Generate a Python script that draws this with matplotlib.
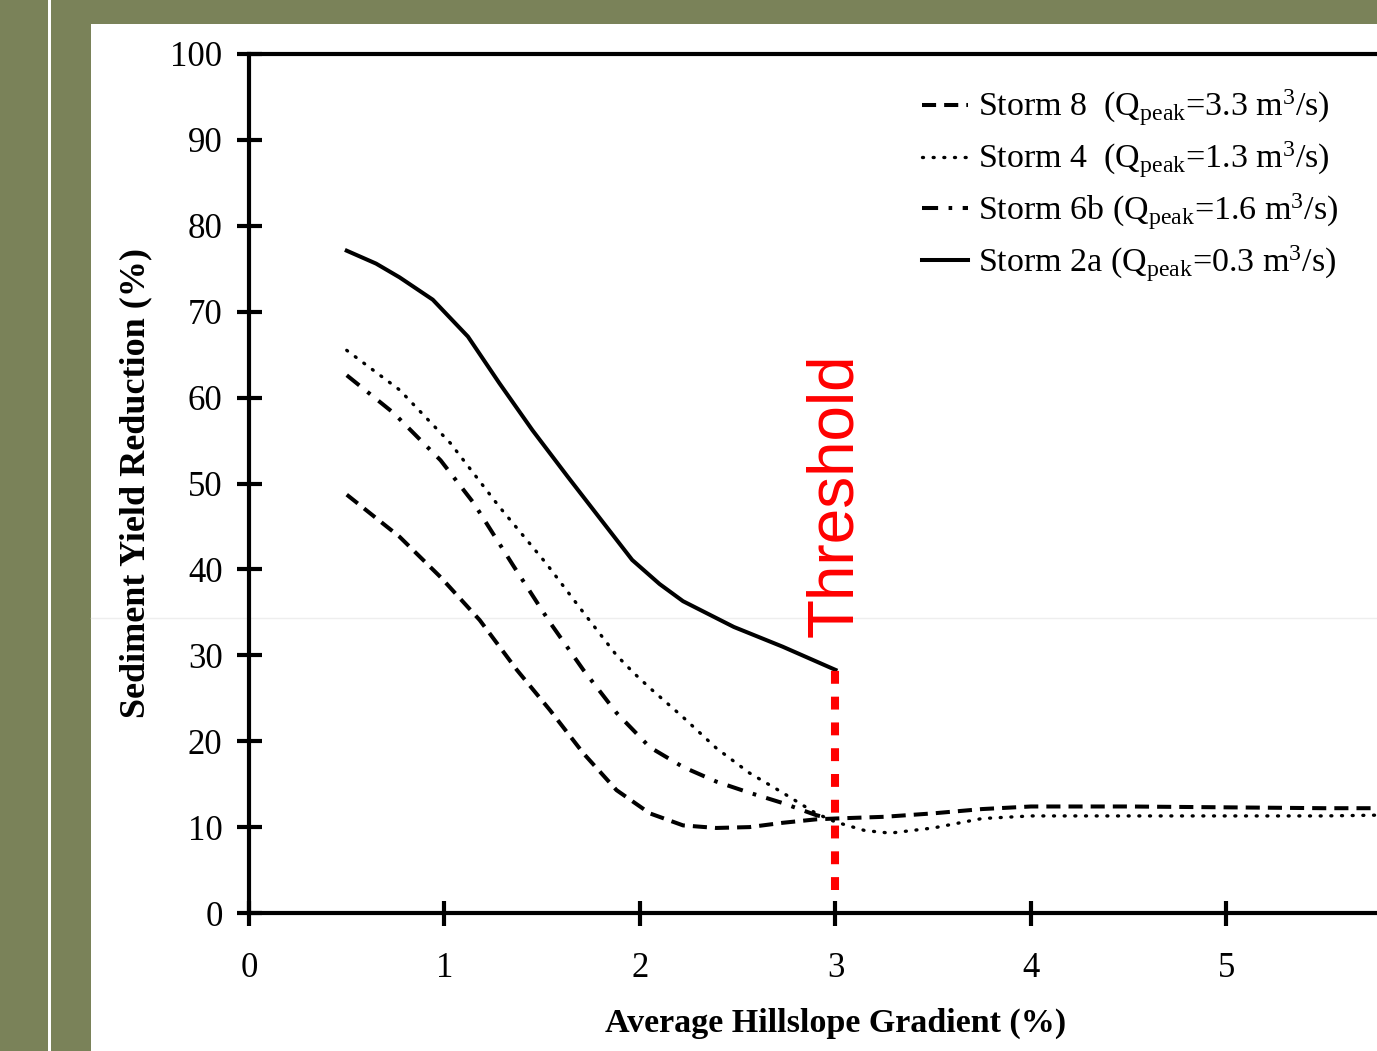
import matplotlib
matplotlib.use("Agg")
import matplotlib.pyplot as plt
from matplotlib.patches import Rectangle
from matplotlib.lines import Line2D

plt.rcParams['font.family'] = ['Liberation Serif', 'DejaVu Serif']
plt.rcParams['mathtext.fontset'] = 'custom'
plt.rcParams['mathtext.rm'] = 'Liberation Serif'
plt.rcParams['mathtext.it'] = 'Liberation Serif:italic'

# gradient (%) and sediment yield reduction (%)
x_s8 = [0.5, 0.77, 0.98, 1.18, 1.37, 1.54, 1.71, 1.88, 2.05, 2.22, 2.39, 2.56, 2.73, 2.9, 3.0,
        3.25, 3.5, 3.75, 4.0, 4.5, 5.0, 5.5, 5.8]
y_s8 = [48.7, 43.8, 39.1, 34.1, 28.3, 23.6, 18.6, 14.3, 11.6, 10.2, 9.9, 10.0, 10.5, 10.9, 11.0,
        11.2, 11.6, 12.1, 12.4, 12.4, 12.3, 12.2, 12.2]

x_s4 = [0.5, 0.77, 1.03, 1.28, 1.52, 1.71, 1.88, 1.97, 2.05, 2.22, 2.39, 2.56, 2.73, 2.9, 3.0,
        3.15, 3.28, 3.5, 3.75, 4.0, 4.5, 5.0, 5.5, 5.8]
y_s4 = [65.5, 60.9, 54.7, 47.3, 40.7, 35.0, 30.0, 27.9, 26.2, 22.8, 19.2, 16.3, 14.0, 11.6, 10.6,
        9.6, 9.3, 9.9, 11.0, 11.3, 11.3, 11.3, 11.3, 11.4]

x_s6b = [0.5, 0.74, 0.98, 1.15, 1.35, 1.54, 1.71, 1.88, 2.05, 2.22, 2.39, 2.56, 2.73, 2.9, 2.97]
y_s6b = [62.6, 58.2, 52.7, 47.7, 40.5, 33.8, 28.3, 23.3, 19.3, 17.0, 15.3, 14.0, 12.8, 11.4, 11.0]

x_s2a = [0.5, 0.65, 0.77, 0.94, 1.12, 1.28, 1.45, 1.63, 1.8, 1.96, 2.1, 2.22, 2.48, 2.73, 3.0]
y_s2a = [77.1, 75.6, 74.0, 71.4, 67.1, 61.7, 56.2, 50.8, 45.8, 41.1, 38.3, 36.3, 33.3, 31.0, 28.3]

threshold_x = 3.0
threshold_y = [2.7, 28.3]

labels = [r'Storm 8  (Q$_{\mathrm{peak}}$=3.3 m$^{3}$/s)',
          r'Storm 4  (Q$_{\mathrm{peak}}$=1.3 m$^{3}$/s)',
          r'Storm 6b (Q$_{\mathrm{peak}}$=1.6 m$^{3}$/s)',
          r'Storm 2a (Q$_{\mathrm{peak}}$=0.3 m$^{3}$/s)']

olive = '#7a8259'

fig = plt.figure(figsize=(13.77, 10.51), dpi=100)
fig.patch.set_facecolor(olive)

# slide decoration: white stripe, white panel, faint guide line
fig.patches.append(Rectangle((48 / 1377, 0), 3 / 1377, 1, transform=fig.transFigure,
                             facecolor='white', edgecolor='none', zorder=1))
fig.patches.append(Rectangle((91 / 1377, 0), 1, 1 - 24 / 1051, transform=fig.transFigure,
                             facecolor='white', edgecolor='none', zorder=1))
fig.lines.append(Line2D([91 / 1377, 1], [1 - 618 / 1051, 1 - 618 / 1051], transform=fig.transFigure,
                        color='#eeeeee', lw=1, zorder=2))

ax = fig.add_axes([249 / 1377, 138 / 1051, 6 * 195.5 / 1377, 859 / 1051])
ax.patch.set_alpha(0)
ax.set_zorder(3)

ax.plot(x_s8, y_s8, color='black', lw=2.9, dashes=(3.5, 2), label=labels[0])
ax.plot(x_s4, y_s4, color='black', lw=2.4, dashes=(0.3, 2.9), dash_capstyle='round', label=labels[1])
ax.plot(x_s6b, y_s6b, color='black', lw=2.9, dashes=(4, 2.6, 0.9, 2.6), label=labels[2])
ax.plot(x_s2a, y_s2a, color='black', lw=2.9, label=labels[3])

ax.plot([threshold_x, threshold_x], threshold_y, color='#ff0000', lw=5.8,
        dashes=(1.6, 1.6), dash_capstyle='butt')
ax.text(3.0, 32.1, 'Threshold', color='#ff0000', rotation=90, ha='center', va='bottom',
        fontsize=46, family=['Liberation Sans', 'DejaVu Sans'])

ax.set_xlim(0, 6)
ax.set_ylim(0, 100)
ax.set_xticks([0, 1, 2, 3, 4, 5])
ax.set_yticks(range(0, 101, 10))
for s in ax.spines.values():
    s.set_linewidth(3)
ax.tick_params(direction='inout', length=18, width=3, labelsize=25)
ax.tick_params(axis='x', pad=19)
ax.tick_params(axis='y', pad=10)

ax.set_xlabel('Average Hillslope Gradient (%)', fontsize=24.5, fontweight='bold')
ax.xaxis.set_label_coords(0.5, -95 / 859)
ax.set_ylabel('Sediment Yield Reduction (%)', fontsize=26, fontweight='bold', labelpad=13)

ax.legend(loc='upper left', bbox_to_anchor=(922 / 1377, 1 - 88 / 1051), bbox_transform=fig.transFigure,
          frameon=False, fontsize=24.5, handlelength=1.35, handletextpad=0.3, labelspacing=0.33,
          borderpad=0, borderaxespad=0)

fig.savefig('out.png', dpi=100, facecolor=fig.get_facecolor())
